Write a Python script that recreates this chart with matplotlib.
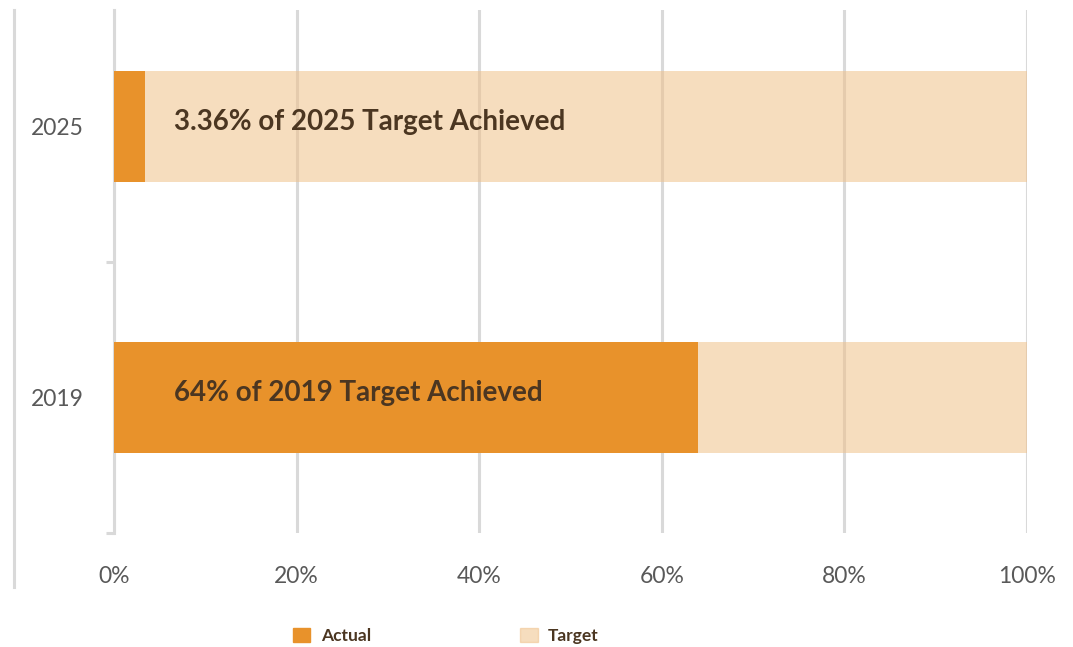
import matplotlib
matplotlib.use("Agg")
import matplotlib.pyplot as plt
from matplotlib.patches import Patch
from matplotlib.lines import Line2D

plt.rcParams['font.family'] = ['Lato', 'DejaVu Sans']

# データ
years = ["2019", "2025"]
actual = [64.0, 3.36]
target = [36.0, 96.64]
notes = ["64% of 2019 Target Achieved", "3.36% of 2025 Target Achieved"]
xticks = [0, 20, 40, 60, 80, 100]

c_actual = "#E8922B"
c_target = "#F0C189"
c_grid = "#D9D9D9"
c_text = "#4B3621"
c_tick = "#595959"

W, H = 1073, 647
fig = plt.figure(figsize=(W / 100, H / 100), dpi=100)
ax = fig.add_axes([114 / W, 1 - 533 / H, (1027 - 114) / W, (533 - 10) / H])

pos = list(range(len(years)))
ax.barh(pos, actual, height=0.408, color=c_actual, zorder=3)
ax.barh(pos, target, left=actual, height=0.408, color=c_target, alpha=0.55, zorder=3)

for p, t in zip(pos, notes):
    ax.text(6.6, p + 0.015, t, fontsize=20, fontweight="bold", color=c_text,
            va="center", ha="left", zorder=4)

ax.set_xlim(0, 100)
ax.set_ylim(-0.5, 1.43)
ax.set_xticks(xticks)
ax.set_xticklabels([f"{v}%" for v in xticks])
ax.set_yticks(pos)
ax.set_yticklabels(years)
ax.set_yticks([-0.5, 0.5], minor=True)

# グリッド（縦線のみ）
ax.xaxis.grid(True, color=c_grid, linewidth=2.2, zorder=1)
ax.set_axisbelow(True)
for s in ["top", "right", "bottom"]:
    ax.spines[s].set_visible(False)
ax.spines["left"].set_color(c_grid)
ax.spines["left"].set_linewidth(2.2)
ax.spines["left"].set_zorder(0.5)

ax.tick_params(axis="x", length=0, pad=24, labelsize=16.5, labelcolor=c_tick)
ax.tick_params(axis="y", which="major", length=0, pad=22, labelsize=16.5, labelcolor=c_tick)
ax.tick_params(axis="y", which="minor", length=6, width=2.2, color=c_grid)

# 左端の縦線
fig.add_artist(Line2D([14 / W, 14 / W], [1 - 10 / H, 1 - 587 / H],
                      color=c_grid, linewidth=2.2, transform=fig.transFigure))

handles = [Patch(color=c_actual), Patch(color=c_target, alpha=0.55)]
leg = fig.legend(handles, ["Actual", "Target"], ncol=2, loc="center",
                 bbox_to_anchor=(446 / W, 1 - 636 / H), frameon=False,
                 prop={"weight": "bold", "size": 12.5},
                 handlelength=1.0, handleheight=0.8, handletextpad=0.6,
                 columnspacing=8.6)
for t in leg.get_texts():
    t.set_color(c_text)

fig.savefig("out.png", dpi=100)
